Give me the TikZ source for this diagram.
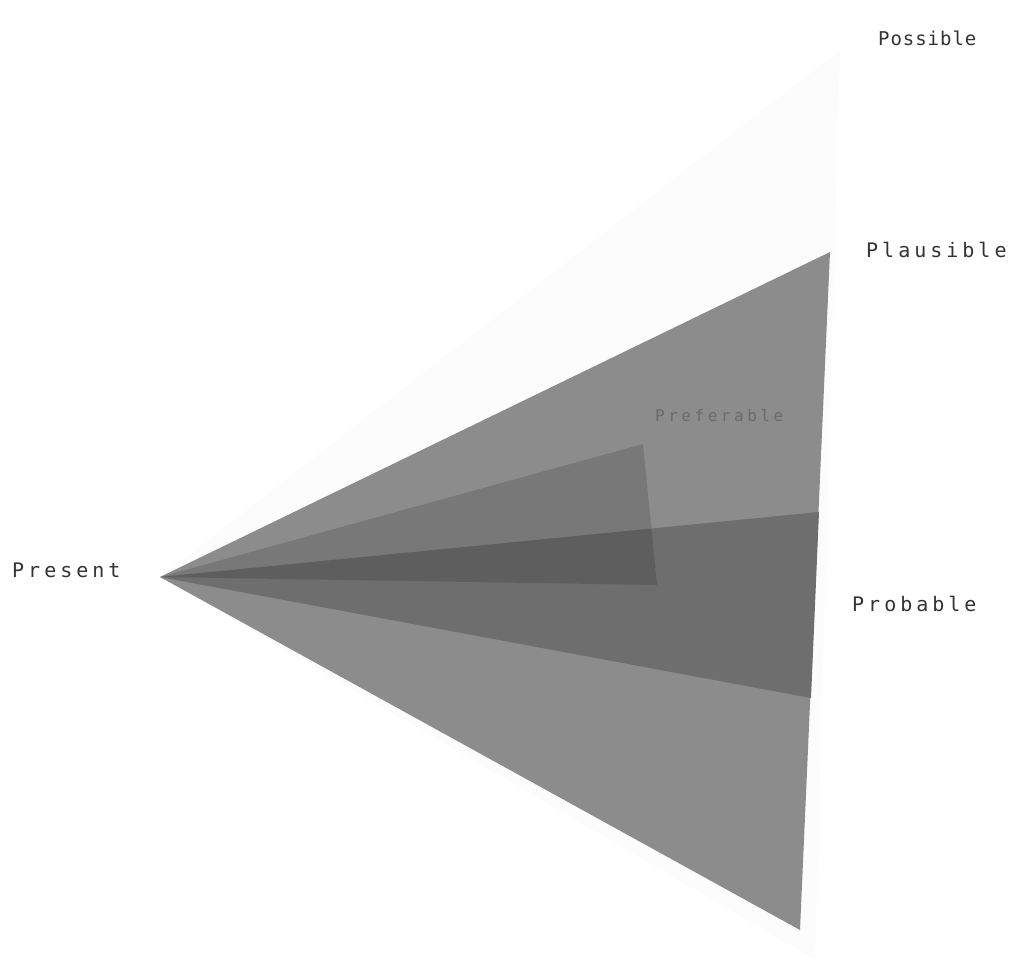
\documentclass[tikz,border=0pt]{standalone}
\usepackage{fontspec}
\newfontfamily\labfont[LetterSpace=20]{DejaVu Sans Mono}
\newfontfamily\labfontb[LetterSpace=5]{DejaVu Sans Mono}
\newfontfamily\labfontc[LetterSpace=22]{DejaVu Sans Mono}
\begin{document}
\begin{tikzpicture}[x=1pt,y=-1pt,
  lab/.style={font=\labfont\fontsize{20}{22}\selectfont, text=black!80, inner sep=0pt}]
\useasboundingbox (0,0) rectangle (1018,966);
\coordinate (apex) at (160,577);
% possible (very faint)
\coordinate (possT) at (840,50);
\coordinate (possB) at (815,960);
\fill[black!1.2] (apex) -- (possT) -- (possB) -- cycle;
% plausible
\coordinate (plauT) at (830,252);
\coordinate (plauB) at (800,930);
\fill[black!45] (apex) -- (plauT) -- (plauB) -- cycle;
% probable
\coordinate (probT) at (819,512);
\coordinate (probB) at (811,698);
\fill[black!57] (apex) -- (probT) -- (probB) -- cycle;
% preferable
\coordinate (prefT) at (643,444);
\coordinate (prefB) at (657,585);
\fill[black, opacity=0.14] (apex) -- (prefT) -- (prefB) -- cycle;
% labels
\node[lab, anchor=west, font=\labfontb\fontsize{19}{21}\selectfont] (possible) at (878,38) {Possible};
\node[lab, anchor=west] (plausible) at (866,250) {Plausible};
\node[lab, anchor=west] (probable) at (852,604) {Probable};
\node[lab, anchor=west] (present) at (12,570) {Present};
\node[lab, anchor=west, text=black!58, font=\labfontc\fontsize{16}{18}\selectfont] (preferable) at (655,415) {Preferable};
\end{tikzpicture}
\end{document}
